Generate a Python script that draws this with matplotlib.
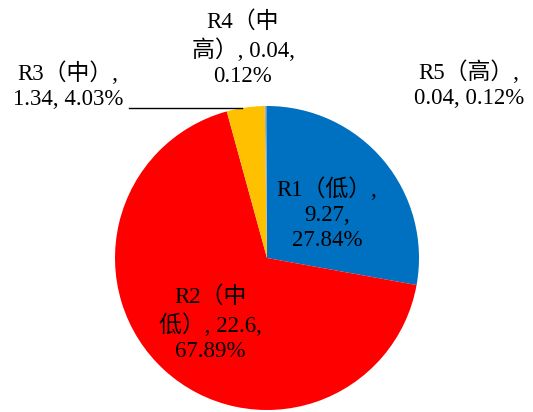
import matplotlib
matplotlib.use('Agg')
import matplotlib.pyplot as plt

plt.rcParams['font.family'] = ['Liberation Serif', 'Noto Sans CJK SC']

names = ['R1（低）', 'R2（中低）', 'R3（中）', 'R4（中高）', 'R5（高）']
values = [9.27, 22.6, 1.34, 0.04, 0.04]
percents = ['27.84%', '67.89%', '4.03%', '0.12%', '0.12%']
colors = ['#0070C0', '#FF0000', '#FFC000', '#A5A5A5', '#5B9BD5']

# label text, wrapped the way it sits on the chart
labels = [
    'R1（低）,\n9.27,\n27.84%',
    'R2（中\n低）, 22.6,\n67.89%',
    'R3（中）,\n1.34, 4.03%',
    'R4（中\n高）, 0.04,\n0.12%',
    'R5（高）,\n0.04, 0.12%',
]
label_pos = [(327, 214), (210, 324), (68, 86), (243, 49), (469, 85)]

W, H = 533, 412
fig = plt.figure(figsize=(W / 100, H / 100), dpi=100)
ax = fig.add_axes([0, 0, 1, 1])

cx, cy, r = 267, H - 258, 152
ax.pie(values, colors=colors, startangle=90, counterclock=False,
       center=(cx, cy), radius=r, frame=True,
       wedgeprops=dict(linewidth=0))
ax.set_xlim(0, W)
ax.set_ylim(0, H)
ax.set_aspect('equal')
ax.axis('off')

for text, (x, y) in zip(labels, label_pos):
    ax.text(x, H - y, text, ha='center', va='center', fontsize=16.5,
            linespacing=1.25, color='black')

# leader line for R3
ax.plot([129, 242], [H - 107.5, H - 107.5], color='black', linewidth=1)

fig.savefig('out.png', dpi=100)
